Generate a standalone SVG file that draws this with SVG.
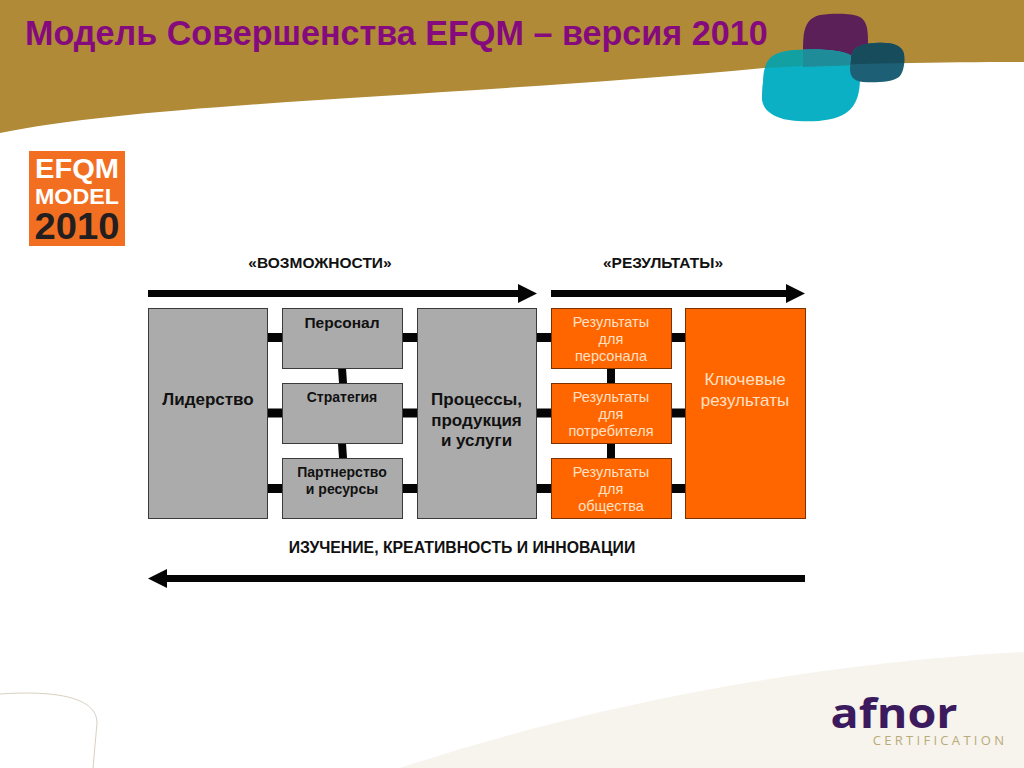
<svg xmlns="http://www.w3.org/2000/svg" width="1024" height="768" viewBox="0 0 1024 768">
<style>
text{font-family:"Liberation Sans",Arial,sans-serif;text-anchor:middle}
.g{fill:#ababab;stroke:#3a3a3a;stroke-width:1}
.o{fill:#ff6600;stroke:#7a3300;stroke-width:1}
.b{font-weight:700;fill:#111}
.w{fill:#ffe0c4}
.c{fill:#050505}
</style>
<defs>
<clipPath id="band-clip"><path d="M0 133C150 102 470 96 764 68C850 63 950 62 1024 62V0H0Z"/></clipPath>
<path id="teal" d="M763 82C764 58 772 52 795 50C815 49 835 49 848 54C858 58 860 66 860 78C860 92 857 106 846 113C834 121 815 122 798 121C778 120 764 113 762 100C762 94 762 88 763 82Z"/>
<path id="navy" d="M851 60C851 48 858 44 875 43C890 42 902 44 904 54C905 62 904 72 899 77C893 82 875 83 863 82C853 81 850 76 850 68Z"/>
</defs>
<rect width="1024" height="768" fill="#fff"/>
<path id="header-shape" d="M0 133C150 102 470 96 764 68C850 63 950 62 1024 62V0H0Z" fill="#b08a36"/>
<path id="footer-band" d="M400 768C560 715 780 665 1024 652V768Z" fill="#f7f3ed"/>
<path id="footer-line" d="M0 694C30 692 97 690 97 723L93 768" fill="none" stroke="#d8cfc2" stroke-width="1"/>
<g id="blobs">
<path d="M803 50C803 30 805 19 820 15C835 13 852 13 860 17C867 21 868 30 868 42C868 55 867 65 865 76H803Z" fill="#5b2057"/>
<use href="#teal" fill="#0cb0c4"/>
<use href="#teal" fill="#12a0a2" clip-path="url(#band-clip)"/>
<path d="M803 49.500C820 49 838 50 848 54C856 57 859 62 860 65L803 67Z" fill="#1f8d99"/>
<use href="#navy" fill="#1d6075"/>
<use href="#navy" fill="#164c5c" clip-path="url(#band-clip)"/>
</g>
<text id="title" x="25" y="45" style="text-anchor:start;font-weight:700;fill:#850a7e;font-size:34.150px">Модель Совершенства EFQM – версия 2010</text>
<g id="logo-efqm">
<rect x="29" y="151" width="96" height="95" fill="#f26f22"/>
<text x="77" y="178" style="font-weight:700;fill:#fff;font-size:28px" textLength="84" lengthAdjust="spacingAndGlyphs">EFQM</text>
<text x="77" y="204" style="font-weight:700;fill:#fff;font-size:22px" textLength="84" lengthAdjust="spacingAndGlyphs">MODEL</text>
<text x="77" y="239" style="font-weight:700;fill:#231f20;font-size:37px" textLength="85" lengthAdjust="spacingAndGlyphs">2010</text>
</g>
<g id="connectors">
<path class="c" d="M268 333h14v9h-14zM268 408.500h14v9h-14zM268 484h14v9h-14zM402 333h15v9h-15zM402 408.500h15v9h-15zM402 484h15v9h-15zM536 333h15v9h-15zM536 408.500h15v9h-15zM536 484h15v9h-15zM671 333h14v9h-14zM671 408.500h14v9h-14zM671 484h14v9h-14z"/>
<path class="c" d="M338 368h8l1 15h-8zM338 443h8l1 15h-8zM607 368h8v15h-8zM607 443h8v15h-8z"/>
<path id="arrow-enablers" class="c" d="M148 290H518V284L537 293.500L518 303V297H148Z"/>
<path id="arrow-results" class="c" d="M551 290H786V284L805 293.500L786 303V297H551Z"/>
<path id="arrow-learning" class="c" d="M805 575H167V569L148 578.500L167 588V582H805Z"/>
</g>
<g id="n-leadership"><rect class="g" x="148.500" y="308.500" width="119" height="210"/><text class="b" x="208" y="405" font-size="17">Лидерство</text></g>
<g id="n-people"><rect class="g" x="282.500" y="308.500" width="120" height="60"/><text class="b" x="342" y="328" font-size="15.500">Персонал</text></g>
<g id="n-strategy"><rect class="g" x="282.500" y="383.500" width="120" height="60"/><text class="b" x="342" y="402" font-size="14">Стратегия</text></g>
<g id="n-partnership"><rect class="g" x="282.500" y="458.500" width="120" height="60"/><text class="b" x="342" y="477" font-size="14">Партнерство</text><text class="b" x="342" y="494" font-size="14">и ресурсы</text></g>
<g id="n-processes"><rect class="g" x="417.500" y="308.500" width="119" height="210"/><text class="b" x="476.500" y="405" font-size="17">Процессы,</text><text class="b" x="476.500" y="426" font-size="17">продукция</text><text class="b" x="476.500" y="446" font-size="17">и услуги</text></g>
<g id="n-res-people"><rect class="o" x="551.500" y="308.500" width="120" height="60"/><text class="w" x="611" y="327" font-size="14.500">Результаты</text><text class="w" x="611" y="344" font-size="14.500">для</text><text class="w" x="611" y="361" font-size="14.500">персонала</text></g>
<g id="n-res-customer"><rect class="o" x="551.500" y="383.500" width="120" height="60"/><text class="w" x="611" y="402" font-size="14.500">Результаты</text><text class="w" x="611" y="419" font-size="14.500">для</text><text class="w" x="611" y="436" font-size="14.500">потребителя</text></g>
<g id="n-res-society"><rect class="o" x="551.500" y="458.500" width="120" height="60"/><text class="w" x="611" y="477" font-size="14.500">Результаты</text><text class="w" x="611" y="494" font-size="14.500">для</text><text class="w" x="611" y="511" font-size="14.500">общества</text></g>
<g id="n-key"><rect class="o" x="685.500" y="308.500" width="120" height="210"/><text class="w" x="745" y="385" font-size="17">Ключевые</text><text class="w" x="745" y="406" font-size="17">результаты</text></g>
<text class="b" x="320" y="268" font-size="15.500">«ВОЗМОЖНОСТИ»</text>
<text class="b" x="663" y="268" font-size="15.500">«РЕЗУЛЬТАТЫ»</text>
<text class="b" x="462" y="553" font-size="15.800">ИЗУЧЕНИЕ, КРЕАТИВНОСТЬ И ИННОВАЦИИ</text>
<g id="logo-afnor">
<text x="894" y="728" style="font-family:'Open Sans',sans-serif;font-weight:700;fill:#3b1a5e;font-size:42px" textLength="127" lengthAdjust="spacingAndGlyphs">afnor</text>
<text x="940" y="745" style="font-family:'Open Sans',sans-serif;fill:#b9ab78;font-size:13px;letter-spacing:3.300px">CERTIFICATION</text>
</g>
</svg>
